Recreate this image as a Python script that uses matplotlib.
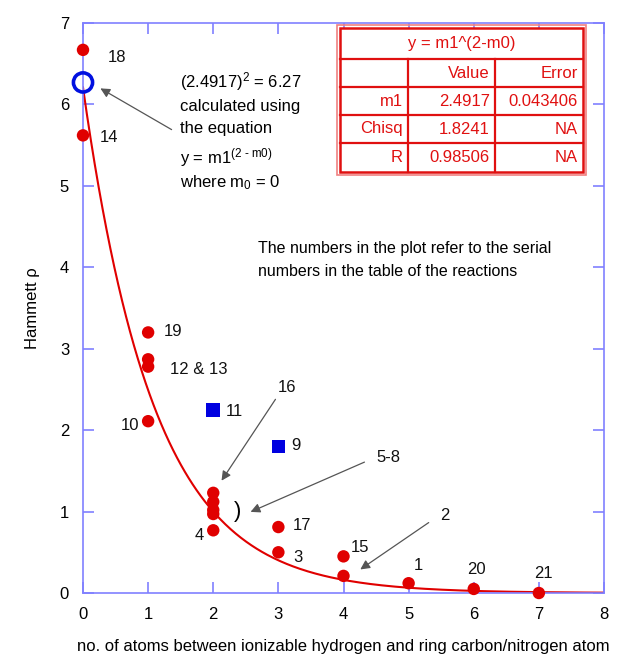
import numpy as np
import matplotlib
matplotlib.use("Agg")
import matplotlib.pyplot as plt
from matplotlib.patches import Rectangle

plt.rcParams['font.family'] = ['Liberation Sans', 'DejaVu Sans']
plt.rcParams['mathtext.fontset'] = 'custom'
plt.rcParams['mathtext.rm'] = 'Liberation Sans'
plt.rcParams['mathtext.it'] = 'Liberation Sans'
plt.rcParams['mathtext.bf'] = 'Liberation Sans'

# ---- data ----
red_x = [0, 0, 1, 1, 1, 1, 2, 2, 2, 2, 2, 3, 3, 4, 4, 5, 6, 7]
red_y = [6.67, 5.62, 3.20, 2.87, 2.78, 2.11, 1.23, 1.12, 1.02, 0.97, 0.77,
         0.81, 0.50, 0.45, 0.21, 0.12, 0.05, 0.00]
blue_sq_x = [2, 3]
blue_sq_y = [2.25, 1.80]
calc_x = [0]
calc_y = [6.27]
m1 = 2.4917
m0 = 0
x_ticks = [0, 1, 2, 3, 4, 5, 6, 7, 8]
y_ticks = [0, 1, 2, 3, 4, 5, 6, 7]
table_title = "y = m1^(2-m0)"
table_rows = [["", "Value", "Error"],
              ["m1", "2.4917", "0.043406"],
              ["Chisq", "1.8241", "NA"],
              ["R", "0.98506", "NA"]]

W, H = 617, 661
fig = plt.figure(figsize=(W / 100, H / 100), dpi=100)
L, R, T, B = 83, 604, 23, 593
ax = fig.add_axes([L / W, 1 - B / H, (R - L) / W, (B - T) / H])
ax.set_xlim(0, 8)
ax.set_ylim(0, 7)

def px(x, y):
    """pixel -> data coordinates"""
    return ((x - L) / (R - L) * 8, (B - y) / (B - T) * 7)

axcol = '#8080ff'
for s in ax.spines.values():
    s.set_color(axcol)
    s.set_linewidth(1.2)
ax.set_xticks(x_ticks)
ax.set_yticks(y_ticks)
ax.tick_params(direction='in', length=8, width=1.2, color=axcol,
               top=True, right=True, labelsize=12, pad=10)

# fit curve
xc = np.linspace(0, 8, 400)
ax.plot(xc, m1 ** (2 - m0 - xc), color='#e00000', lw=1.5, zorder=2)

ax.scatter(red_x, red_y, s=80, color='#e00000', zorder=3, edgecolors='none',
           clip_on=False)
ax.scatter(blue_sq_x, blue_sq_y, s=95, marker='s', color='#0000e0', zorder=3,
           edgecolors='none', clip_on=False)
ax.scatter(calc_x, calc_y, s=190, facecolors='none', edgecolors='#0010e0',
           linewidths=2.6, zorder=4, clip_on=False)

fs = 12
labels = [("18", 108, 57, 'left'), ("14", 100, 137, 'left'),
          ("19", 164, 331, 'left'), ("12 & 13", 170, 369, 'left'),
          ("10", 139, 426, 'right'), ("11", 226, 412, 'left'),
          ("9", 291, 446, 'left'), ("16", 287, 388, 'center'),
          ("5-8", 388, 457, 'center'), ("17", 293, 525, 'left'),
          ("4", 199, 535, 'center'), ("3", 298, 558, 'center'),
          ("15", 360, 548, 'center'), ("2", 445, 516, 'center'),
          ("1", 418, 565, 'center'), ("20", 476, 570, 'center'),
          ("21", 543, 574, 'center')]
for t, x, y, ha in labels:
    ax.text(*px(x, y), t, fontsize=fs, ha=ha, va='center', color='#111111')

ax.text(*px(238, 512), ")", fontsize=16, ha='center', va='center',
        fontweight='light')

arrow = dict(arrowstyle='-|>', color='#555555', lw=0.9, mutation_scale=14)
ax.annotate("", xy=px(98, 87), xytext=px(174, 131), arrowprops=arrow)
ax.annotate("", xy=px(220, 483), xytext=px(277, 397), arrowprops=arrow)
ax.annotate("", xy=px(248, 513), xytext=px(367, 461), arrowprops=arrow)
ax.annotate("", xy=px(358, 571), xytext=px(431, 521), arrowprops=arrow)

ax.text(*px(180, 82), "(2.4917)$^{2}$ = 6.27", fontsize=fs, ha='left', va='center')
ax.text(*px(180, 106), "calculated using", fontsize=fs, ha='left', va='center')
ax.text(*px(180, 128), "the equation", fontsize=fs, ha='left', va='center')
ax.text(*px(180, 158), r"y = m1$^{\mathrm{(2\ \text{-}\ m0)}}$", fontsize=fs,
        ha='left', va='center')
ax.text(*px(180, 183), r"where m$_{\mathrm{0}}$ = 0", fontsize=fs, ha='left', va='center')

ax.text(*px(258, 248), "The numbers in the plot refer to the serial",
        fontsize=11.5, ha='left', va='center')
ax.text(*px(258, 271), "numbers in the table of the reactions",
        fontsize=11.5, ha='left', va='center')

# table (drawn in pixel-derived axes coords)
red = '#e01010'
col_edges = [340, 408, 495, 583]
row_edges = [28, 59, 87, 115, 143, 172]
def ac(x, y):
    return ((x - L) / (R - L), (B - y) / (B - T))
x0, y0 = ac(col_edges[0], row_edges[-1])
x1, y1 = ac(col_edges[-1], row_edges[0])
ax.add_patch(Rectangle((x0, y0), x1 - x0, y1 - y0, transform=ax.transAxes,
                       facecolor='white', edgecolor=red, lw=1.8, zorder=5))
ox0, oy0 = ac(col_edges[0] - 3, row_edges[-1] + 3)
ox1, oy1 = ac(col_edges[-1] + 3, row_edges[0] - 3)
ax.add_patch(Rectangle((ox0, oy0), ox1 - ox0, oy1 - oy0, transform=ax.transAxes,
                       facecolor='none', edgecolor='#f08080', lw=1.2, zorder=5))
for ry in row_edges[1:-1]:
    a, b = ac(col_edges[0], ry)
    c, _ = ac(col_edges[-1], ry)
    ax.plot([a, c], [b, b], transform=ax.transAxes, color=red, lw=1.6, zorder=6)
for cx in col_edges[1:-1]:
    a, b = ac(cx, row_edges[1])
    _, d = ac(cx, row_edges[-1])
    ax.plot([a, a], [b, d], transform=ax.transAxes, color=red, lw=1.6, zorder=6)
tx, ty = ac((col_edges[0] + col_edges[-1]) / 2, (row_edges[0] + row_edges[1]) / 2)
ax.text(tx, ty, table_title, transform=ax.transAxes, ha='center', va='center',
        color=red, fontsize=fs, zorder=7)
for i, row in enumerate(table_rows):
    for j, cell in enumerate(row):
        cx, cy = ac(col_edges[j + 1] - 5, (row_edges[i + 1] + row_edges[i + 2]) / 2)
        ax.text(cx, cy, cell, transform=ax.transAxes, ha='right', va='center',
                color=red, fontsize=fs, zorder=7)

ax.set_ylabel("Hammett ρ", fontsize=12, labelpad=14)
ax.set_xlabel("no. of atoms between ionizable hydrogen and ring carbon/nitrogen atom",
              fontsize=12, labelpad=12)

fig.savefig("out.png", dpi=100)
